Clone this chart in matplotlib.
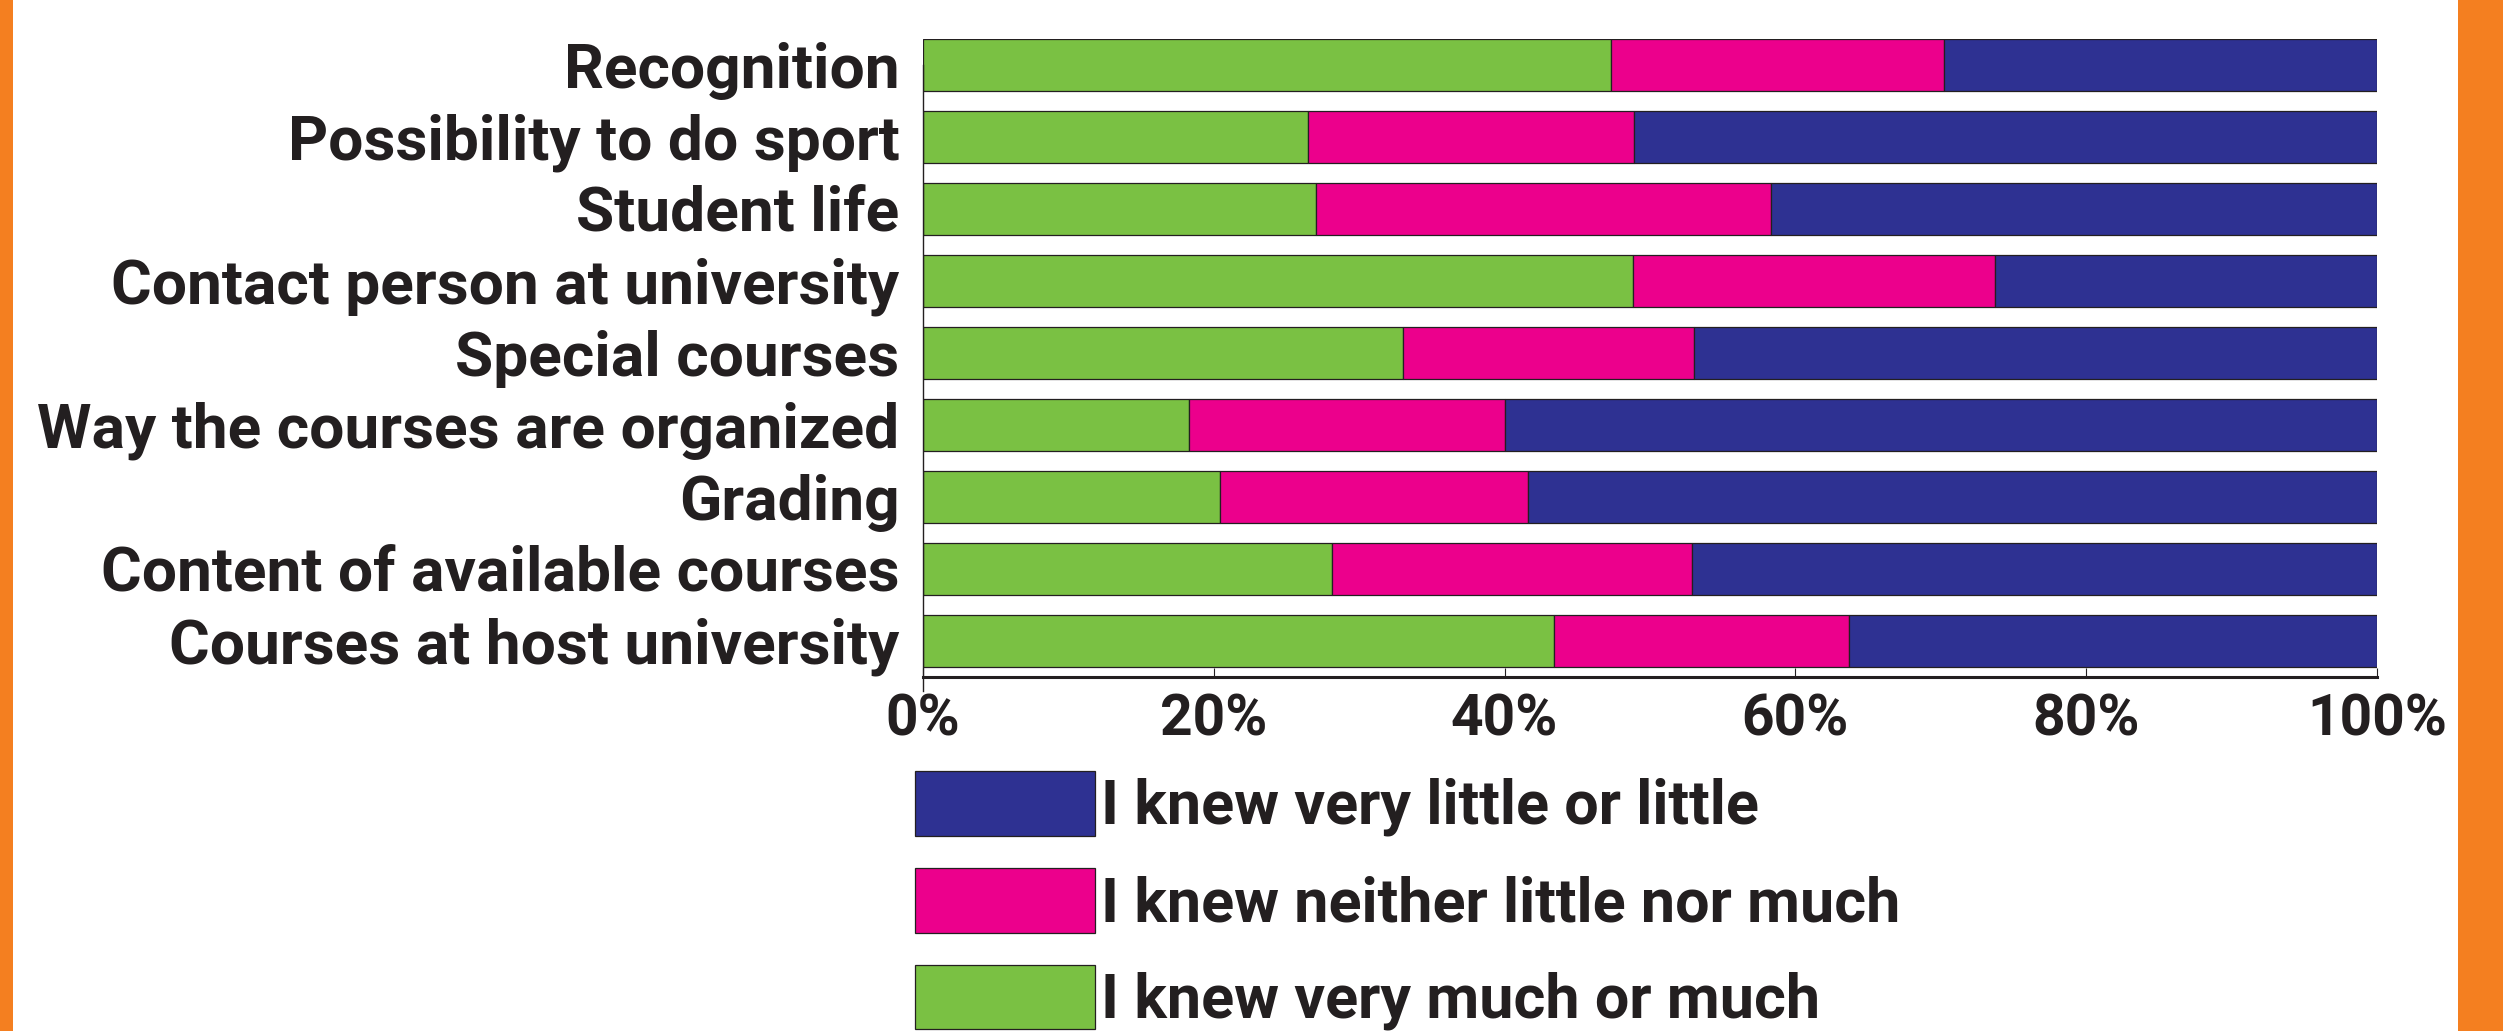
import matplotlib
matplotlib.use("Agg")
import matplotlib.pyplot as plt
from matplotlib.patches import Patch, Rectangle
import numpy as np

plt.rcParams['font.family'] = ['Roboto', 'DejaVu Sans']
plt.rcParams['font.weight'] = 'bold'

categories = [
    "Courses at host university",
    "Content of available courses",
    "Grading",
    "Way the courses are organized",
    "Special courses",
    "Contact person at university",
    "Student life",
    "Possibility to do sport",
    "Recognition",
]
much = [43.4, 28.1, 20.4, 18.3, 33.0, 48.8, 27.0, 26.5, 47.3]
neither = [20.3, 24.8, 21.2, 21.7, 20.0, 24.9, 31.3, 22.4, 22.9]
little = [100 - a - b for a, b in zip(much, neither)]

series_labels = ["I knew very much or much", "I knew neither little nor much",
                 "I knew very little or little"]
xticks = [0, 20, 40, 60, 80, 100]
xtick_labels = ["0%", "20%", "40%", "60%", "80%", "100%"]

C_GREEN = "#7AC143"
C_PINK = "#EC008C"
C_BLUE = "#2E3192"
C_ORANGE = "#F47F20"
C_TEXT = "#231F20"

W, H = 2503, 1031
fig = plt.figure(figsize=(W / 100, H / 100), dpi=100)
fig.patch.set_facecolor("white")

# orange side stripes
fig.add_artist(Rectangle((0, 0), 13 / W, 1, transform=fig.transFigure,
                         facecolor=C_ORANGE, edgecolor="none"))
fig.add_artist(Rectangle((2458 / W, 0), 1 - 2458 / W, 1, transform=fig.transFigure,
                         facecolor=C_ORANGE, edgecolor="none"))

ax = fig.add_axes([923 / W, 354 / H, (2377 - 923) / W, (677 - 39) / H])
y = np.arange(len(categories))
bh = 0.72
ec = C_TEXT
lw = 0.9
ax.barh(y, much, height=bh, color=C_GREEN, edgecolor=ec, linewidth=lw,
        label=series_labels[0])
ax.barh(y, neither, left=much, height=bh, color=C_PINK, edgecolor=ec, linewidth=lw,
        label=series_labels[1])
left2 = [a + b for a, b in zip(much, neither)]
ax.barh(y, little, left=left2, height=bh, color=C_BLUE, edgecolor=ec, linewidth=lw,
        label=series_labels[2])

ax.set_xlim(0, 100)
ax.set_ylim(-0.5, len(categories) - 1 + bh / 2)
ax.set_yticks(y)
ax.set_yticklabels(categories, fontsize=44.8, fontweight='bold', color=C_TEXT)
ax.set_xticks(xticks)
ax.set_xticklabels(xtick_labels, fontsize=41, fontweight='bold', color=C_TEXT)
ax.tick_params(axis='y', length=0, pad=17)
ax.tick_params(axis='x', direction='in', length=6.5, width=0.8, color=C_TEXT, pad=11)

for s in ("top", "right"):
    ax.spines[s].set_visible(False)
ax.spines['bottom'].set_linewidth(2.2)
ax.spines['bottom'].set_color(C_TEXT)
ax.spines['left'].set_linewidth(1.0)
ax.spines['left'].set_color(C_TEXT)
ax.spines['left'].set_bounds(-0.7, len(categories) - 1)

handles = [Patch(facecolor=C_BLUE, edgecolor=ec, linewidth=lw),
           Patch(facecolor=C_PINK, edgecolor=ec, linewidth=lw),
           Patch(facecolor=C_GREEN, edgecolor=ec, linewidth=lw)]
labels = [series_labels[2], series_labels[1], series_labels[0]]
leg = fig.legend(handles, labels, loc='upper left',
                 bbox_to_anchor=(915 / W, 1 - 771 / H), bbox_transform=fig.transFigure,
                 frameon=False, borderpad=0, borderaxespad=0,
                 handlelength=2.95, handleheight=1.25, handletextpad=0.1,
                 labelspacing=0.52, prop={'family': ['Roboto', 'DejaVu Sans'],
                                          'weight': 'bold', 'size': 44})
for t in leg.get_texts():
    t.set_color(C_TEXT)

fig.savefig("out.png", dpi=100, facecolor="white")
